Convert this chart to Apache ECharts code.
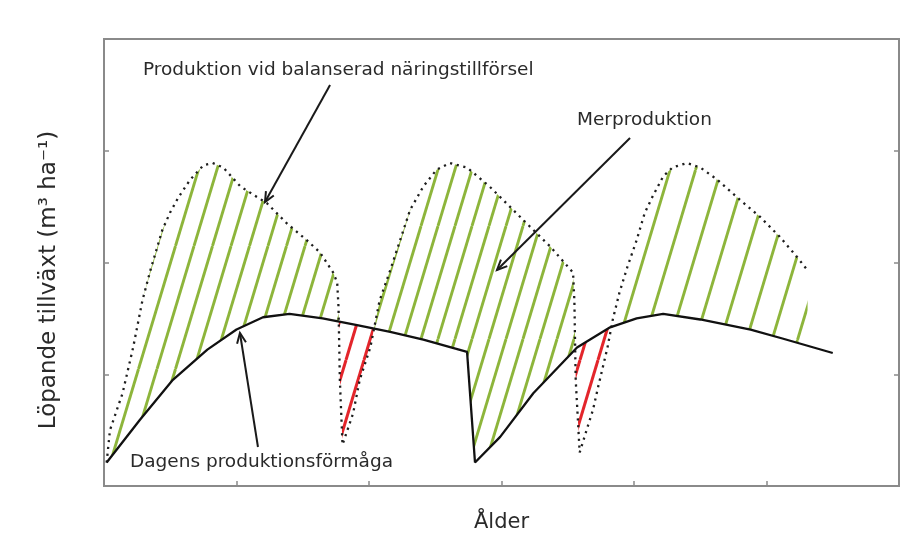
<!DOCTYPE html>
<html><head><meta charset="utf-8">
<script src="https://cdn.jsdelivr.net/npm/echarts@6/dist/echarts.min.js"></script>
<style>html,body{margin:0;padding:0;background:#fff}#c{width:908px;height:545px}</style>
</head><body><div id="c"></div>
<script>
// ---- data ----
const solidAge = [0.02, 0.27, 0.52, 0.78, 1.00, 1.20, 1.40, 1.65, 1.91, 2.16, 2.41, 2.74, 2.80, 2.99, 3.24, 3.57, 3.82, 4.02, 4.22, 4.50, 4.88, 5.12, 5.50];
const solidGrowth = [0.21, 0.59, 0.95, 1.22, 1.40, 1.51, 1.54, 1.50, 1.44, 1.38, 1.31, 1.20, 0.21, 0.44, 0.83, 1.24, 1.42, 1.50, 1.54, 1.49, 1.40, 1.32, 1.19];

const balancedAge = [0.02, 0.045, 0.14, 0.22, 0.29, 0.35, 0.44, 0.50, 0.56, 0.65, 0.75, 0.82, 0.90, 1.03, 1.23, 1.38, 1.53, 1.63, 1.73, 1.76, 1.77, 1.78, 1.80, 1.88, 1.93, 2.01, 2.08, 2.16, 2.26, 2.31, 2.41, 2.51, 2.61, 2.74, 2.91, 3.19, 3.37, 3.54, 3.55, 3.56, 3.59, 3.65, 3.69, 3.73, 3.80, 3.84, 3.89, 3.95, 4.02, 4.08, 4.14, 4.22, 4.29, 4.40, 4.50, 4.63, 4.80, 4.95, 5.10, 5.23, 5.31];
const balancedGrowth = [0.21, 0.50, 0.83, 1.24, 1.66, 1.93, 2.29, 2.45, 2.58, 2.74, 2.87, 2.89, 2.85, 2.68, 2.53, 2.35, 2.20, 2.09, 1.91, 1.82, 1.60, 0.95, 0.37, 0.65, 0.95, 1.24, 1.66, 1.93, 2.29, 2.47, 2.68, 2.83, 2.89, 2.85, 2.68, 2.35, 2.14, 1.91, 1.66, 0.95, 0.30, 0.53, 0.68, 0.89, 1.24, 1.49, 1.73, 1.96, 2.20, 2.44, 2.59, 2.77, 2.85, 2.89, 2.85, 2.74, 2.56, 2.41, 2.23, 2.05, 1.93];

const annotationTexts = ['Produktion vid balanserad näringstillförsel', 'Merproduktion', 'Dagens produktionsförmåga'];
const annotationTextAt = [[0.294, 3.723], [3.570, 3.275], [0.196, 0.215]];
const arrowFrom = [[1.706, 3.588], [3.970, 3.114], [1.162, 0.349]];
const arrowTo = [[1.215, 2.541], [2.966, 1.933], [1.026, 1.369]];

const xAxisName = 'Ålder';
const yAxisName = 'Löpande tillväxt (m³ ha⁻¹)';

// ---- helpers ----
function interp(xs, ys, x) {
  if (x <= xs[0]) return ys[0];
  for (let i = 1; i < xs.length; i++) {
    if (x <= xs[i]) { const t = (x - xs[i - 1]) / (xs[i] - xs[i - 1]); return ys[i - 1] + t * (ys[i] - ys[i - 1]); }
  }
  return ys[ys.length - 1];
}
const xStart = Math.max(solidAge[0], balancedAge[0]);
const xEnd = Math.min(solidAge[solidAge.length - 1], balancedAge[balancedAge.length - 1]);
let sx = [];
for (let x = xStart; x < xEnd; x += 0.004) sx.push(x);
solidAge.concat(balancedAge).forEach(x => { if (x >= xStart && x <= xEnd) sx.push(x); });
sx.push(xEnd);
sx = Array.from(new Set(sx.map(v => +v.toFixed(5)))).sort((a, b) => a - b);

// split green regions at local minima of the balanced curve
const splits = [];
for (let i = 1; i < balancedGrowth.length - 1; i++) {
  if (balancedGrowth[i] < balancedGrowth[i - 1] && balancedGrowth[i] < balancedGrowth[i + 1]) splits.push(balancedAge[i]);
}
const bounds = [xStart].concat(splits, [xEnd]);

function makeTile(color, spacing, lw) {
  const T = Math.round(spacing * 2), H = Math.round(T / 0.3);
  const c = document.createElement('canvas'); c.width = T; c.height = H;
  const g = c.getContext('2d'); g.strokeStyle = color; g.lineWidth = lw;
  const s = T / 2;
  for (let j = -3; j <= 3; j++) { const a = j * s; g.beginPath(); g.moveTo(a, H); g.lineTo(a + T, 0); g.stroke(); }
  return c;
}
const greenTiles = [
  { image: makeTile('#8db53b', 18.5, 2.9), repeat: 'repeat', x: 9 },
  { image: makeTile('#8db53b', 17, 2.9), repeat: 'repeat', x: -4 },
  { image: makeTile('#8db53b', 25.5, 2.9), repeat: 'repeat', x: 7 }
];
const redTile = { image: makeTile('#e3252b', 18, 3), repeat: 'repeat', x: 4 };

const regions = [];
for (let r = 0; r < bounds.length - 1; r++) {
  const xs = sx.filter(x => x >= bounds[r] && x <= bounds[r + 1]);
  const top = xs.map(x => [x, Math.max(interp(balancedAge, balancedGrowth, x), interp(solidAge, solidGrowth, x))]);
  const bot = xs.map(x => [x, interp(solidAge, solidGrowth, x)]).reverse();
  regions.push({ pts: top.concat(bot), fill: greenTiles[r % greenTiles.length] });
}
{
  const top = sx.map(x => [x, interp(solidAge, solidGrowth, x)]);
  const bot = sx.map(x => [x, Math.min(interp(balancedAge, balancedGrowth, x), interp(solidAge, solidGrowth, x))]).reverse();
  regions.push({ pts: top.concat(bot), fill: redTile });
}

const FONT = 'DejaVu Sans';
const chart = echarts.init(document.getElementById('c'), null, { renderer: 'canvas' });
const tickStyle = { show: true, inside: true, length: 5, lineStyle: { color: '#8a8a8a', width: 1.5 } };
chart.setOption({
  animation: false,
  backgroundColor: '#ffffff',
  grid: { left: 104, right: 9, top: 39, bottom: 59, show: true, borderColor: '#8a8a8a', borderWidth: 2, backgroundColor: 'transparent' },
  xAxis: {
    type: 'value', min: 0, max: 6, interval: 1,
    axisLine: { show: false }, axisTick: tickStyle, axisLabel: { show: false }, splitLine: { show: false },
    name: xAxisName, nameLocation: 'middle', nameGap: 26,
    nameTextStyle: { fontFamily: FONT, fontSize: 21, color: '#2a2a2a' }
  },
  yAxis: [{
    type: 'value', min: 0, max: 4, interval: 1, position: 'left',
    axisLine: { show: false }, axisTick: tickStyle, axisLabel: { show: false }, splitLine: { show: false },
    name: yAxisName, nameLocation: 'middle', nameGap: 43,
    nameTextStyle: { fontFamily: FONT, fontSize: 23, color: '#2a2a2a', padding: [0, 35, 0, 0] }
  }, {
    type: 'value', min: 0, max: 4, interval: 1, position: 'right',
    axisLine: { show: false }, axisTick: tickStyle, axisLabel: { show: false }, splitLine: { show: false }
  }],
  series: [
    {
      type: 'custom', silent: true, z: 1, clip: true,
      data: regions.map(() => [0, 0]),
      renderItem: (params, api) => {
        const reg = regions[params.dataIndex];
        return { type: 'polygon', shape: { points: reg.pts.map(p => api.coord(p)) }, style: { fill: reg.fill, stroke: null } };
      }
    },
    {
      type: 'line', z: 3, showSymbol: false, silent: true,
      data: balancedAge.map((x, i) => [x, balancedGrowth[i]]),
      lineStyle: { color: '#1e1e1e', width: 2.3, type: [2.2, 4.6] }
    },
    {
      type: 'line', z: 4, showSymbol: false, silent: true,
      data: solidAge.map((x, i) => [x, solidGrowth[i]]),
      lineStyle: { color: '#111111', width: 2.3 }
    },
    {
      type: 'custom', silent: true, z: 5, clip: false,
      data: annotationTexts.map(() => [0, 0]),
      renderItem: (params, api) => {
        const i = params.dataIndex;
        const a = api.coord(arrowFrom[i]), b = api.coord(arrowTo[i]), t = api.coord(annotationTextAt[i]);
        const ang = Math.atan2(a[1] - b[1], a[0] - b[0]);
        const L = 11, h = 0.42;
        const p1 = [b[0] + L * Math.cos(ang + h), b[1] + L * Math.sin(ang + h)];
        const p2 = [b[0] + L * Math.cos(ang - h), b[1] + L * Math.sin(ang - h)];
        return {
          type: 'group', children: [
            { type: 'line', shape: { x1: a[0], y1: a[1], x2: b[0], y2: b[1] }, style: { stroke: '#1a1a1a', lineWidth: 2 } },
            { type: 'polyline', shape: { points: [p1, b, p2] }, style: { stroke: '#1a1a1a', lineWidth: 2, fill: null } },
            { type: 'text', x: t[0], y: t[1], style: { text: annotationTexts[i], fontFamily: FONT, fontSize: 18.5, fill: '#2a2a2a', align: 'left', verticalAlign: 'middle' } }
          ]
        };
      }
    }
  ]
});
</script></body></html>
